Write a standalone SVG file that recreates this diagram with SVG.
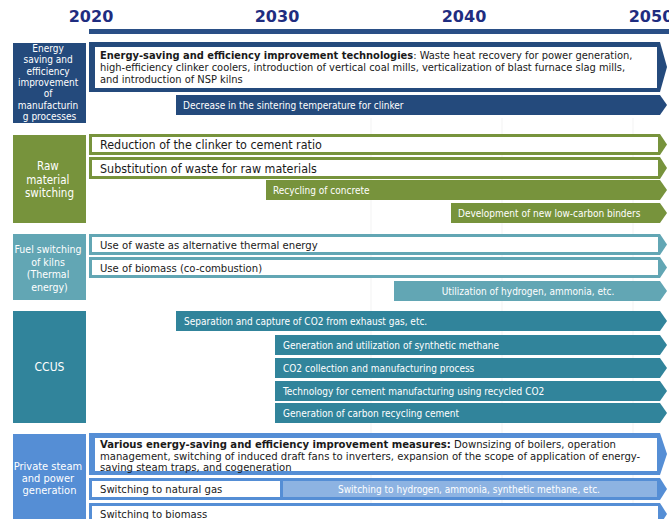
<svg xmlns="http://www.w3.org/2000/svg" width="669" height="519" viewBox="0 0 669 519">
  <style>
    text { font-family: "DejaVu Sans Condensed", "DejaVu Sans", "Liberation Sans", sans-serif; }
    .year { font-size: 16px; font-weight: bold; fill: #1f2d80; text-anchor: middle; font-family: "DejaVu Sans", sans-serif; }
    .lbl { fill: #ffffff; text-anchor: middle; }
    .main { font-size: 11.2px; fill: #1a1a1a; }
    .para { font-size: 11px; fill: #1a1a1a; }
    .big { font-size: 12.4px; fill: #1a1a1a; }
    .small { font-size: 10px; fill: #ffffff; }
    .inner { fill: #ffffff; }
    .navy { fill: #244a7c; }
    .green { fill: #77933c; }
    .teal { fill: #62a6b4; }
    .ccus { fill: #31849b; }
    .blue { fill: #558ed5; }
    .grid { stroke: #f3f3f3; stroke-width: 1; }
  </style>

  <!-- background grid -->
  <g id="grid">
    <line class="grid" x1="371" y1="118" x2="371" y2="519"/>
    <line class="grid" x1="502" y1="118" x2="502" y2="519"/>
    <line class="grid" x1="633" y1="118" x2="633" y2="519"/>
  </g>

  <!-- time axis -->
  <g id="axis">
    <text class="year" x="91" y="22">2020</text>
    <text class="year" x="277" y="22">2030</text>
    <text class="year" x="464" y="22">2040</text>
    <text class="year" x="651" y="22">2050</text>
    <rect x="89" y="29" width="580" height="5" fill="#2a4f86"/>
  </g>

  <!-- 1: energy saving of manufacturing processes -->
  <g id="cat-energy">
    <rect class="navy" x="13" y="43" width="73" height="80"/>
    <text class="lbl" font-size="10">
      <tspan x="49.5" y="52">Energy</tspan>
      <tspan x="49.5" y="63.3">saving and</tspan>
      <tspan x="49.5" y="74.6">efficiency</tspan>
      <tspan x="49.5" y="86">improvement</tspan>
      <tspan x="49.5" y="97.3">of</tspan>
      <tspan x="49.5" y="108.6">manufacturin</tspan>
      <tspan x="49.5" y="120">g processes</tspan>
    </text>
  </g>
  <g id="energy-tech">
    <path class="navy" d="M89,42 H660 L667,67 L660,92 H89 Z"/>
    <rect class="inner" x="95" y="47" width="562" height="41"/>
    <text class="para">
      <tspan x="100" y="59"><tspan font-weight="bold">Energy-saving and efficiency improvement technologies</tspan>: Waste heat recovery for power generation,</tspan>
      <tspan x="100" y="71">high-efficiency clinker coolers, introduction of vertical coal mills, verticalization of blast furnace slag mills,</tspan>
      <tspan x="100" y="83">and introduction of NSP kilns</tspan>
    </text>
  </g>
  <g id="sintering">
    <path class="navy" d="M176,95 H660 L667,105 L660,115 H176 Z"/>
    <text class="small" x="183" y="108.5">Decrease in the sintering temperature for clinker</text>
  </g>

  <!-- 2: raw material switching -->
  <g id="cat-raw">
    <rect class="green" x="13" y="135" width="73" height="88"/>
    <text class="lbl" font-size="11.5">
      <tspan x="49.5" y="170">Raw</tspan>
      <tspan x="49.5" y="183.5">material</tspan>
      <tspan x="49.5" y="197">switching</tspan>
    </text>
  </g>
  <g id="clinker-ratio">
    <path class="green" d="M89,134 H660 L667,144.5 L660,155 H89 Z"/>
    <rect class="inner" x="92" y="137" width="566" height="15"/>
    <text class="big" x="100" y="149">Reduction of the clinker to cement ratio</text>
  </g>
  <g id="waste-raw">
    <path class="green" d="M89,157 H660 L667,168 L660,179 H89 Z"/>
    <rect class="inner" x="92" y="160" width="566" height="16"/>
    <text class="big" x="100" y="172.5">Substitution of waste for raw materials</text>
  </g>
  <g id="concrete">
    <path class="green" d="M266,180 H660 L667,190 L660,200 H266 Z"/>
    <text class="small" x="273" y="194">Recycling of concrete</text>
  </g>
  <g id="binders">
    <path class="green" d="M451,203 H660 L667,213 L660,223 H451 Z"/>
    <text class="small" x="458" y="217">Development of new low-carbon binders</text>
  </g>

  <!-- 3: fuel switching of kilns -->
  <g id="cat-fuel">
    <rect class="teal" x="13" y="234" width="73" height="66"/>
    <text class="lbl" font-size="10.5">
      <tspan x="49.5" y="253">Fuel switching</tspan>
      <tspan x="49.5" y="265.5">of kilns</tspan>
      <tspan x="49.5" y="278">(Thermal</tspan>
      <tspan x="49.5" y="290.5">energy)</tspan>
    </text>
  </g>
  <g id="waste-fuel">
    <path class="teal" d="M89,234 H660 L667,244.5 L660,255 H89 Z"/>
    <rect class="inner" x="92" y="237" width="566" height="15"/>
    <text class="main" x="100" y="248.5">Use of waste as alternative thermal energy</text>
  </g>
  <g id="biomass-fuel">
    <path class="teal" d="M89,257 H660 L667,267.5 L660,278 H89 Z"/>
    <rect class="inner" x="92" y="260" width="566" height="15"/>
    <text class="main" x="100" y="271.5">Use of biomass (co-combustion)</text>
  </g>
  <g id="hydrogen-fuel">
    <path class="teal" d="M394,281 H660 L667,291 L660,301 H394 Z"/>
    <text class="small" x="528" y="295" text-anchor="middle">Utilization of hydrogen, ammonia, etc.</text>
  </g>

  <!-- 4: CCUS -->
  <g id="cat-ccus">
    <rect class="ccus" x="13" y="311" width="73" height="112"/>
    <text class="lbl" font-size="12" x="49.5" y="371">CCUS</text>
  </g>
  <g id="capture">
    <path class="ccus" d="M176,311 H660 L667,321 L660,331 H176 Z"/>
    <text class="small" x="184" y="325">Separation and capture of CO2 from exhaust gas, etc.</text>
  </g>
  <g id="methane">
    <path class="ccus" d="M275,335 H660 L667,345 L660,355 H275 Z"/>
    <text class="small" x="283" y="349">Generation and utilization of synthetic methane</text>
  </g>
  <g id="co2-collection">
    <path class="ccus" d="M275,358 H660 L667,368 L660,378 H275 Z"/>
    <text class="small" x="283" y="372">CO2 collection and manufacturing process</text>
  </g>
  <g id="recycled-co2">
    <path class="ccus" d="M275,381 H660 L667,391 L660,401 H275 Z"/>
    <text class="small" x="283" y="395">Technology for cement manufacturing using recycled CO2</text>
  </g>
  <g id="recycling-cement">
    <path class="ccus" d="M275,403 H660 L667,413 L660,423 H275 Z"/>
    <text class="small" x="283" y="417">Generation of carbon recycling cement</text>
  </g>

  <!-- 5: private steam and power generation -->
  <g id="cat-steam">
    <rect class="blue" x="13" y="434" width="73" height="90"/>
    <text class="lbl" font-size="11">
      <tspan x="49.5" y="470">Private steam</tspan>
      <tspan x="49.5" y="482">and power</tspan>
      <tspan x="49.5" y="494">generation</tspan>
    </text>
  </g>
  <g id="steam-measures">
    <path class="blue" d="M89,433 H660 L667,454 L660,475 H89 Z"/>
    <rect class="inner" x="95" y="438" width="562" height="33"/>
    <text class="main">
      <tspan x="100" y="447.5"><tspan font-weight="bold">Various energy-saving and efficiency improvement measures:</tspan> Downsizing of boilers, operation</tspan>
      <tspan x="100" y="459.5">management, switching of induced draft fans to inverters, expansion of the scope of application of energy-</tspan>
      <tspan x="100" y="471">saving steam traps, and cogeneration</tspan>
    </text>
  </g>
  <g id="natural-gas">
    <path class="blue" d="M89,478 H660 L667,489 L660,500 H89 Z"/>
    <rect class="inner" x="92" y="481" width="188" height="16"/>
    <rect x="283" y="481" width="374" height="16" fill="#8db3e2"/>
    <text class="main" x="100" y="493">Switching to natural gas</text>
    <text class="small" x="469" y="493" text-anchor="middle" fill="#eef4fb">Switching to hydrogen, ammonia, synthetic methane, etc.</text>
  </g>
  <g id="biomass-steam">
    <path class="blue" d="M89,503 H660 L667,514 L660,525 H89 Z"/>
    <rect class="inner" x="92" y="506" width="566" height="16"/>
    <text class="main" x="100" y="517.5">Switching to biomass</text>
  </g>
</svg>
